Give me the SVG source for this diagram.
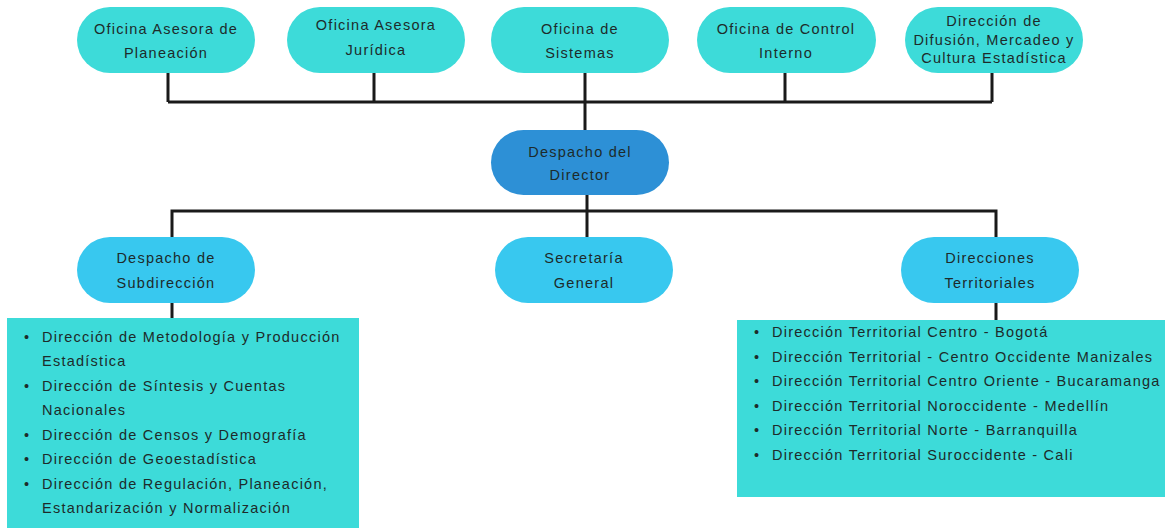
<svg xmlns="http://www.w3.org/2000/svg" width="1165" height="528" viewBox="0 0 1165 528">
<style>
text{font-family:"Liberation Sans",Arial,sans-serif;font-size:14.5px;letter-spacing:1.25px;fill:#1d2b2b;dominant-baseline:central}
.c{text-anchor:middle}
.t{fill:#3ddbd9}
.d{fill:#2d90d6}
.s{fill:#38c8ef}
.ln{fill:none;stroke:#1a1a1a;stroke-width:3}
</style>
<rect width="1165" height="528" fill="#fff"/>
<g id="connectors">
<path class="ln" d="M168 73V102M374 73V102M585 73V102M785 73V102M992 73V102M168 102H992M585 102V130"/>
<path class="ln" d="M587 195V237M172 237V211H996V237M172 303V318M996 303V320"/>
</g>
<g id="n1"><rect class="t" x="77" y="7" width="178" height="66" rx="33"/><text class="c" x="166" y="29">Oficina Asesora de</text><text class="c" x="166" y="53">Planeación</text></g>
<g id="n2"><rect class="t" x="287" y="7" width="178" height="66" rx="33"/><text class="c" x="376" y="25">Oficina Asesora</text><text class="c" x="376" y="50">Jurídica</text></g>
<g id="n3"><rect class="t" x="491" y="7" width="178" height="66" rx="33"/><text class="c" x="580" y="29">Oficina de</text><text class="c" x="580" y="53">Sistemas</text></g>
<g id="n4"><rect class="t" x="697" y="7" width="179" height="66" rx="33"/><text class="c" x="786" y="29">Oficina de Control</text><text class="c" x="786" y="53">Interno</text></g>
<g id="n5"><rect class="t" x="905" y="7" width="178" height="66" rx="33"/><text class="c" x="994" y="21">Dirección de</text><text class="c" x="994" y="40">Difusión, Mercadeo y</text><text class="c" x="994" y="58">Cultura Estadística</text></g>
<g id="director"><rect class="d" x="491" y="130" width="178" height="65" rx="32.5"/><text class="c" x="580" y="152">Despacho del</text><text class="c" x="580" y="175">Director</text></g>
<g id="subdireccion"><rect class="s" x="77" y="237" width="178" height="66" rx="33"/><text class="c" x="166" y="258">Despacho de</text><text class="c" x="166" y="283">Subdirección</text></g>
<g id="secretaria"><rect class="s" x="495" y="237" width="178" height="66" rx="33"/><text class="c" x="584" y="258">Secretaría</text><text class="c" x="584" y="283">General</text></g>
<g id="territoriales"><rect class="s" x="901" y="237" width="178" height="66" rx="33"/><text class="c" x="990" y="258">Direcciones</text><text class="c" x="990" y="283">Territoriales</text></g>
<g id="lista-subdireccion">
<rect class="t" x="7" y="318" width="352" height="210"/>
<text x="24" y="337">•</text><text x="42" y="337">Dirección de Metodología y Producción</text>
<text x="42" y="361">Estadística</text>
<text x="24" y="386">•</text><text x="42" y="386">Dirección de Síntesis y Cuentas</text>
<text x="42" y="410">Nacionales</text>
<text x="24" y="435">•</text><text x="42" y="435">Dirección de Censos y Demografía</text>
<text x="24" y="459">•</text><text x="42" y="459">Dirección de Geoestadística</text>
<text x="24" y="484">•</text><text x="42" y="484">Dirección de Regulación, Planeación,</text>
<text x="42" y="508">Estandarización y Normalización</text>
</g>
<g id="lista-territoriales">
<rect class="t" x="737" y="320" width="428" height="177"/>
<text x="754" y="332">•</text><text x="772" y="332">Dirección Territorial Centro - Bogotá</text>
<text x="754" y="357">•</text><text x="772" y="357">Dirección Territorial - Centro Occidente Manizales</text>
<text x="754" y="381">•</text><text x="772" y="381">Dirección Territorial Centro Oriente - Bucaramanga</text>
<text x="754" y="406">•</text><text x="772" y="406">Dirección Territorial Noroccidente - Medellín</text>
<text x="754" y="430">•</text><text x="772" y="430">Dirección Territorial Norte - Barranquilla</text>
<text x="754" y="455">•</text><text x="772" y="455">Dirección Territorial Suroccidente - Cali</text>
</g>
</svg>
